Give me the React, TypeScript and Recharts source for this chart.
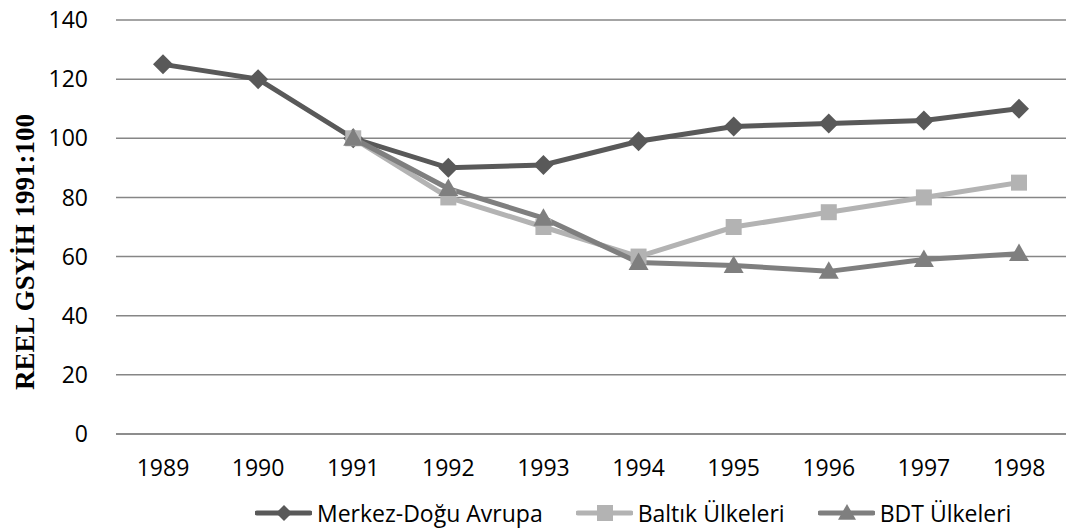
import React from "react";
import { LineChart, Line, XAxis, YAxis, CartesianGrid, Legend } from "recharts";

const years = ["1989", "1990", "1991", "1992", "1993", "1994", "1995", "1996", "1997", "1998"];
const merkezDogu = [125, 120, 100, 90, 91, 99, 104, 105, 106, 110];
const baltik = [null, null, 100, 80, 70, 60, 70, 75, 80, 85];
const bdt = [null, null, 100, 83, 73, 58, 57, 55, 59, 61];
const yTicks = [0, 20, 40, 60, 80, 100, 120, 140];

const data = years.map((y, i) => ({
  year: y,
  merkez: merkezDogu[i],
  baltik: baltik[i],
  bdt: bdt[i],
}));

const DARK = "#595959";
const LIGHT = "#b3b3b3";
const MID = "#7f7f7f";
const FONT = "'Open Sans', 'Liberation Sans', sans-serif";

function Diamond({ cx, cy, r = 9, fill }: any) {
  if (cx == null || cy == null) return null;
  return <path d={`M${cx},${cy - r}L${cx + r},${cy}L${cx},${cy + r}L${cx - r},${cy}Z`} fill={fill} />;
}

function Square({ cx, cy, r = 8, fill }: any) {
  if (cx == null || cy == null) return null;
  return <rect x={cx - r} y={cy - r} width={r * 2} height={r * 2} fill={fill} />;
}

function Triangle({ cx, cy, r = 10, fill }: any) {
  if (cx == null || cy == null) return null;
  return <path d={`M${cx},${cy - r}L${cx + r},${cy + r * 0.75}L${cx - r},${cy + r * 0.75}Z`} fill={fill} />;
}

const legendItems = [
  { label: "Merkez-Doğu Avrupa", color: DARK, Shape: Diamond, r: 8 },
  { label: "Baltık Ülkeleri", color: LIGHT, Shape: Square, r: 8 },
  { label: "BDT Ülkeleri", color: MID, Shape: Triangle, r: 9 },
];

function renderLegend() {
  return (
    <div style={{ display: "flex", justifyContent: "flex-start", paddingLeft: 255, gap: 33, fontFamily: FONT, fontSize: 23, color: "#000" }}>
      {legendItems.map((it) => (
        <div key={it.label} style={{ display: "flex", alignItems: "center" }}>
          <svg width={57} height={22}>
            <line x1={2} y1={11} x2={55} y2={11} stroke={it.color} strokeWidth={5} strokeLinecap="round" />
            <it.Shape cx={29} cy={11} r={it.r} fill={it.color} />
          </svg>
          <span style={{ marginLeft: 5 }}>{it.label}</span>
        </div>
      ))}
    </div>
  );
}

function YLabel() {
  return (
    <text
      x={25}
      y={252}
      transform="rotate(-90 25 252)"
      textAnchor="middle"
      dominantBaseline="central"
      style={{ fontFamily: "'Liberation Serif', 'Times New Roman', serif", fontWeight: "bold", fontSize: 27, fill: "#000" }}
    >
      REEL GSYİH 1991:100
    </text>
  );
}

export default function App() {
  return (
    <div style={{ position: "absolute", left: 0, top: 0, background: "#fff" }}>
      <LineChart width={1066} height={529} data={data} margin={{ top: 20, right: 0, left: 0, bottom: 0 }}>
        <CartesianGrid vertical={false} stroke="#868686" strokeWidth={1.5} />
        <XAxis
          dataKey="year"
          axisLine={{ stroke: "#868686", strokeWidth: 1.5 }}
          tickLine={false}
          tick={{ fill: "#000", fontSize: 23, fontFamily: FONT }}
          tickMargin={20}
          padding={{ left: 47, right: 47 }}
          height={60}
        />
        <YAxis
          domain={[0, 140]}
          ticks={yTicks}
          axisLine={false}
          tickLine={false}
          tick={{ fill: "#000", fontSize: 23, fontFamily: FONT }}
          tickMargin={22}
          width={116}
          label={<YLabel />}
        />
        <Legend verticalAlign="bottom" height={35} content={renderLegend} wrapperStyle={{ bottom: -3 }} />
        <Line
          dataKey="merkez"
          name="Merkez-Doğu Avrupa"
          stroke={DARK}
          strokeWidth={5}
          dot={(p: any) => <Diamond key={p.index} cx={p.cx} cy={p.cy} r={10} fill={DARK} />}
          isAnimationActive={false}
        />
        <Line
          dataKey="baltik"
          name="Baltık Ülkeleri"
          stroke={LIGHT}
          strokeWidth={5}
          dot={(p: any) => <Square key={p.index} cx={p.cx} cy={p.cy} r={8} fill={LIGHT} />}
          isAnimationActive={false}
        />
        <Line
          dataKey="bdt"
          name="BDT Ülkeleri"
          stroke={MID}
          strokeWidth={5}
          dot={(p: any) => <Triangle key={p.index} cx={p.cx} cy={p.cy} r={10} fill={MID} />}
          isAnimationActive={false}
        />
      </LineChart>
    </div>
  );
}
